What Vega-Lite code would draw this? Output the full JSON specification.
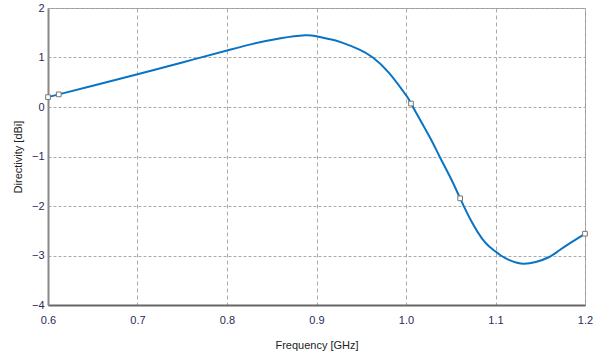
{
  "$schema": "https://vega.github.io/schema/vega-lite/v6.json",
  "width": 537,
  "height": 297,
  "autosize": {"type": "none"},
  "padding": {"left": 48, "top": 8, "right": 8, "bottom": 55},
  "background": "white",
  "config": {
    "view": {"stroke": "#999999", "strokeWidth": 1},
    "font": "Liberation Sans Narrow, Liberation Sans, Arial, sans-serif"
  },
  "datasets": {
    "curve": [
      {"f": 0.600, "d": 0.20},
      {"f": 0.612, "d": 0.255},
      {"f": 0.650, "d": 0.43},
      {"f": 0.700, "d": 0.66},
      {"f": 0.750, "d": 0.90},
      {"f": 0.800, "d": 1.14},
      {"f": 0.830, "d": 1.28},
      {"f": 0.860, "d": 1.39},
      {"f": 0.887, "d": 1.45},
      {"f": 0.900, "d": 1.43},
      {"f": 0.915, "d": 1.37},
      {"f": 0.927, "d": 1.31},
      {"f": 0.948, "d": 1.16},
      {"f": 0.963, "d": 1.00},
      {"f": 0.981, "d": 0.69},
      {"f": 1.000, "d": 0.24},
      {"f": 1.0056, "d": 0.07},
      {"f": 1.026, "d": -0.59},
      {"f": 1.0375, "d": -1.00},
      {"f": 1.050, "d": -1.44},
      {"f": 1.0605, "d": -1.845},
      {"f": 1.0737, "d": -2.33},
      {"f": 1.085, "d": -2.66},
      {"f": 1.093, "d": -2.82},
      {"f": 1.100, "d": -2.92},
      {"f": 1.106, "d": -3.00},
      {"f": 1.115, "d": -3.09},
      {"f": 1.124, "d": -3.145},
      {"f": 1.132, "d": -3.165},
      {"f": 1.145, "d": -3.13},
      {"f": 1.160, "d": -3.03},
      {"f": 1.171, "d": -2.90},
      {"f": 1.185, "d": -2.73},
      {"f": 1.200, "d": -2.56}
    ],
    "markers": [
      {"f": 0.600, "d": 0.20},
      {"f": 0.612, "d": 0.255},
      {"f": 1.0056, "d": 0.07},
      {"f": 1.0605, "d": -1.845},
      {"f": 1.200, "d": -2.56}
    ]
  },
  "layer": [
    {
      "data": {"name": "curve"},
      "mark": {"type": "line", "interpolate": "natural", "color": "#0a74c4", "strokeWidth": 2},
      "encoding": {
        "x": {
          "field": "f", "type": "quantitative",
          "scale": {"domain": [0.6, 1.2], "nice": false, "zero": false},
          "axis": {
            "title": "Frequency [GHz]", "titleFontSize": 11, "titleFontWeight": "normal", "titleColor": "#222222",
            "titlePadding": 14,
            "values": [0.6, 0.7, 0.8, 0.9, 1.0, 1.1, 1.2], "format": ".1f",
            "labelFontSize": 11, "labelColor": "#2a2a5a", "labelPadding": 9,
            "ticks": false, "domainColor": "#666666", "domainWidth": 2,
            "grid": true, "gridDash": [4, 3], "gridColor": "#aaaaaa", "gridWidth": 1,
            "labelFlush": false
          }
        },
        "y": {
          "field": "d", "type": "quantitative",
          "scale": {"domain": [-4, 2], "nice": false, "zero": false},
          "axis": {
            "title": "Directivity [dBi]", "titleFontSize": 11, "titleFontWeight": "normal", "titleColor": "#222222",
            "titlePadding": 8,
            "values": [-4, -3, -2, -1, 0, 1, 2],
            "labelFontSize": 11, "labelColor": "#2a2a5a", "labelPadding": 4,
            "ticks": false, "domainColor": "#888888", "domainWidth": 2,
            "grid": true, "gridDash": [3, 2], "gridColor": "#aaaaaa", "gridWidth": 1
          }
        }
      }
    },
    {
      "mark": {"type": "rule", "color": "#111111", "strokeWidth": 1.5},
      "encoding": {"y": {"datum": 2}}
    },
    {
      "data": {"name": "markers"},
      "mark": {"type": "point", "shape": "square", "filled": true, "fill": "white", "stroke": "#777777", "strokeWidth": 1, "size": 22, "opacity": 1},
      "encoding": {
        "x": {"field": "f", "type": "quantitative"},
        "y": {"field": "d", "type": "quantitative"}
      }
    }
  ]
}
